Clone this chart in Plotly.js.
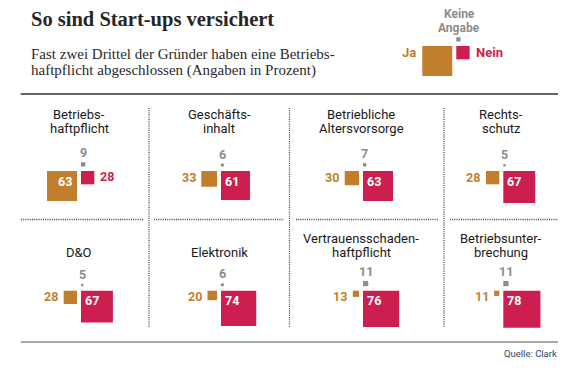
<!DOCTYPE html>
<html><head><meta charset="utf-8">
<script src="https://cdn.plot.ly/plotly-3.0.1.min.js"></script>
<style>html,body{margin:0;padding:0;background:#fff;}#chart{width:578px;height:368px;}</style>
</head><body><div id="chart"></div>
<script>
// ---- data ----
const categories = ["Betriebs-\nhaftpflicht", "Geschäfts-\ninhalt", "Betriebliche\nAltersvorsorge", "Rechts-\nschutz",
                    "D&O", "Elektronik", "Vertrauensschaden-\nhaftpflicht", "Betriebsunter-\nbrechung"];
const ja = [63, 33, 30, 28, 28, 20, 13, 11];
const nein = [28, 61, 63, 67, 67, 74, 76, 78];
const keineAngabe = [9, 6, 7, 5, 5, 6, 11, 11];
const legendLabels = ["Ja", "Nein", "Keine\nAngabe"];
const titleText = "So sind Start-ups versichert";
const subtitleLines = ["Fast zwei Drittel der Gründer haben eine Betriebs-", "haftpflicht abgeschlossen (Angaben in Prozent)"];
const sourceText = "Quelle: Clark";

// ---- styling / layout constants ----
const C_JA = "#c17f2e", C_NEIN = "#cd1f4f", C_GRAY = "#8c8c8c";
const SANS = "Liberation Sans Narrow, Roboto, Arial, sans-serif";
const SERIF = "Liberation Serif, Times New Roman, serif";
const K = 30 / 63;          // pixel side per percent
const HG = 2;               // half gap between Ja and Nein
const GG = 4.5;             // gap under gray square
const colCenters = [79, 219, 361, 501.3];
const rowTops = [171, 290.7];
const titleBottomY = [128.6, 252];
const titleLineH = 13.8;

const shapes = [], annotations = [];
function rect(x0, y0, x1, y1, color) {
  shapes.push({type: "rect", xref: "x", yref: "y", x0, y0, x1, y1, fillcolor: color, line: {width: 0}, layer: "above"});
}
function line(x0, y0, x1, y1, color, width, dash) {
  shapes.push({type: "line", xref: "x", yref: "y", x0, y0, x1, y1, line: {color, width, dash: dash || "solid"}});
}
function text(t, x, y, xanchor, size, color, bold, family) {
  annotations.push({xref: "x", yref: "y", x, y, xanchor, yanchor: "middle", text: bold ? "<b>" + t + "</b>" : t,
    showarrow: false, borderpad: 0, font: {family: family || SANS, size, color}});
}

function group(cx, top, vJa, vNein, vGray, labelsInside) {
  const sJa = vJa * K, sNein = vNein * K, sGray = vGray * K;
  rect(cx - HG - sJa, top, cx - HG, top + sJa, C_JA);
  rect(cx + HG, top, cx + HG + sNein, top + sNein, C_NEIN);
  rect(cx + HG, top - GG - sGray, cx + HG + sGray, top - GG, C_GRAY);
  if (!labelsInside) return;
  if (vJa >= 50) text(String(vJa), cx - HG - 4.5, top + 10, "right", 12.5, "#ffffff", true);
  else text(String(vJa), cx - HG - sJa - 4.5, top + 6, "right", 12.5, C_JA, true);
  if (vNein >= 50) text(String(vNein), cx + HG + 3, top + 10, "left", 12.5, "#ffffff", true);
  else text(String(vNein), cx + HG + sNein + 4.5, top + 5.5, "left", 12.5, C_NEIN, true);
  text(String(vGray), cx + HG + sGray / 2, top - GG - sGray - 9.5, "center", 12.5, C_GRAY, true);
}

categories.forEach((cat, i) => {
  const col = i % 4, row = Math.floor(i / 4);
  const cx = colCenters[col], top = rowTops[row];
  const lines = cat.split("\n");
  lines.forEach((ln, j) => {
    text(ln, cx, titleBottomY[row] - (lines.length - 1 - j) * titleLineH, "center", 13, "#1a1a1a", false);
  });
  group(cx, top, ja[i], nein[i], keineAngabe[i], true);
});

// legend (uses first category as key)
const lcx = 454.3, ltop = 46;
group(lcx, ltop, ja[0], nein[0], keineAngabe[0], false);
text(legendLabels[0], 417, 52, "right", 13, C_JA, true);
text(legendLabels[1], 475, 52, "left", 13, C_NEIN, true);
legendLabels[2].split("\n").forEach((ln, j) => text(ln, 459, 13.6 + j * 14.2, "center", 12, "#8d8d8d", true));

// title and subtitle
text(titleText, 30, 19.5, "left", 20.5, "#262626", true, SERIF);
subtitleLines.forEach((ln, j) => text(ln, 30, 54.2 + j * 16, "left", 15, "#2a2a2a", false, SERIF));
text(sourceText, 558, 353, "right", 9.5, "#34445e", false);

// rules
line(20.7, 94, 558, 94, "#333333", 1.4);
line(20.7, 342, 558, 342, "#8c8c8c", 1.5);
[149, 289.5, 444].forEach(x => line(x, 108, x, 327, "#444444", 1.3, "1px,1.2px"));
[[21, 144], [154, 284], [296, 439], [450, 558]].forEach(s => line(s[0], 219.5, s[1], 219.5, "#444444", 1.3, "1px,1.2px"));

const layout = {
  width: 578, height: 368, autosize: false,
  margin: {l: 0, r: 0, t: 0, b: 0, pad: 0},
  paper_bgcolor: "#ffffff", plot_bgcolor: "#ffffff",
  showlegend: false,
  xaxis: {range: [0, 578], visible: false, fixedrange: true},
  yaxis: {range: [368, 0], visible: false, fixedrange: true},
  shapes, annotations
};
Plotly.newPlot("chart", [], layout, {staticPlot: true, displayModeBar: false});
</script></body></html>
